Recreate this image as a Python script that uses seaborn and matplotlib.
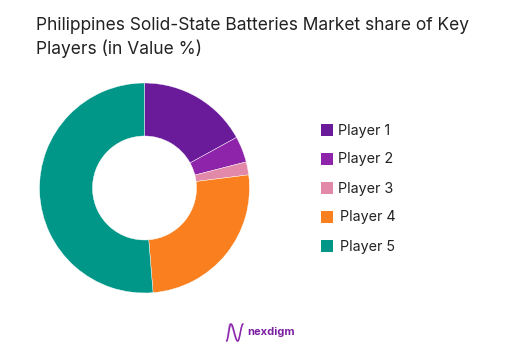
import numpy as np
import matplotlib
matplotlib.use("Agg")
import matplotlib.pyplot as plt
from matplotlib.patches import Rectangle
import seaborn as sns

players = ["Player 1", "Player 2", "Player 3", "Player 4", "Player 5"]
shares = [17, 4, 2, 25.7, 51.3]
colors = ["#6A1B9A", "#8E24AA", "#E288A8", "#F97F1F", "#009688"]
title_lines = ["Philippines Solid-State Batteries Market share of Key", "Players (in Value %)"]

sns.set_theme(style="white")
plt.rcParams["font.family"] = ["Inter", "DejaVu Sans"]
palette = sns.color_palette(colors)

W, H = 517, 362
fig = plt.figure(figsize=(W / 100, H / 100), dpi=100, facecolor="white")
ax = fig.add_axes([0, 0, 1, 1])

ax.pie(shares, colors=palette, startangle=90, counterclock=False,
       center=(144.5, H - 188), radius=105, frame=True,
       wedgeprops=dict(width=53, edgecolor="white", linewidth=0.3))
ax.set_xlim(0, W)
ax.set_ylim(0, H)
ax.set_aspect("equal")
ax.axis("off")

ax.text(36, H - 26, title_lines[0], fontsize=12.5, color="#222222", va="center", ha="left")
ax.text(36, H - 49, title_lines[1], fontsize=12.5, color="#222222", va="center", ha="left")

ys = [130, 159, 188, 217, 246]
text_x = [338, 338, 338, 340, 340]
for name, c, y, tx in zip(players, palette, ys, text_x):
    ax.add_patch(Rectangle((321, H - y - 6), 11.5, 12, facecolor=c, edgecolor="none"))
    ax.text(tx, H - y - 0.5, name, fontsize=10.3, color="#222222", va="center", ha="left")

# logo mark: a wavy N drawn as two strands
t = np.linspace(0, 1, 120)
for knot, col, lw in [(0.2, "#B9A0E0", 0.9), (0.27, "#8E24AA", 1.1)]:
    phase = np.interp(t, [0, knot, 0.68, 1],
                      [-np.pi / 2, np.pi / 2, 3 * np.pi / 2, 5 * np.pi / 2])
    ax.plot(226.5 + 16.5 * t, H - (332.5 - 8.5 * np.sin(phase)), color=col, lw=lw)
ax.text(247, H - 332, "nexdigm", fontsize=8.0, fontweight="bold", color="#7B1FA2", va="center", ha="left")

fig.savefig("out.png", dpi=100, facecolor="white")
